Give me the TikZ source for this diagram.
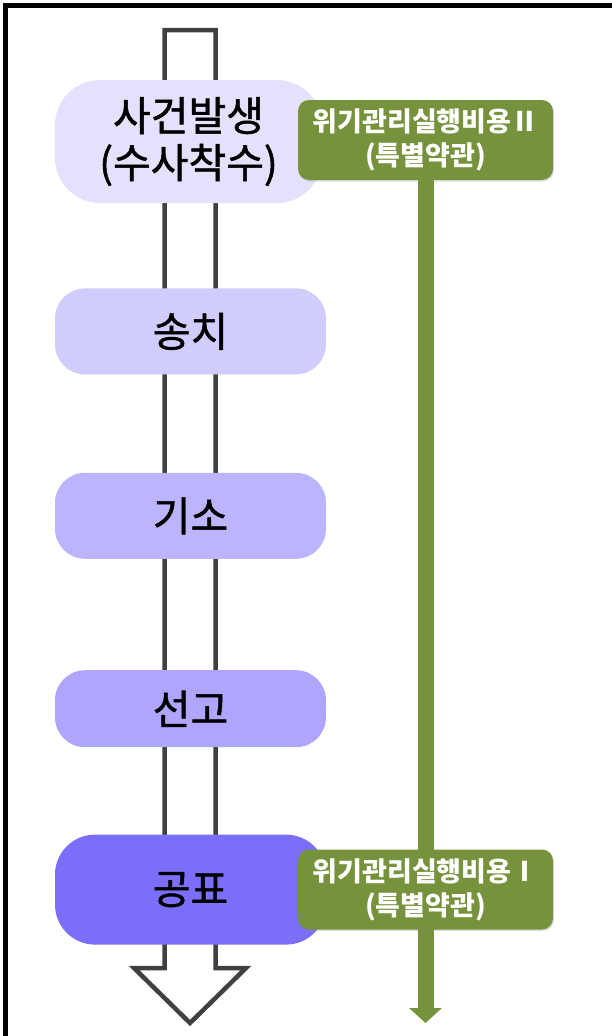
\documentclass[tikz,border=0pt]{standalone}
\usepackage{fontspec}
\setmainfont{Noto Sans CJK KR}
\newfontfamily\phasefont[FakeBold=1.2]{Noto Sans CJK KR}
\usepackage{tikz}
\usetikzlibrary{arrows.meta,positioning,shadows}

\definecolor{stepA}{HTML}{E3E1FC}
\definecolor{stepB}{HTML}{D0CCFC}
\definecolor{stepC}{HTML}{BBB5FD}
\definecolor{stepD}{HTML}{ADA6FC}
\definecolor{stepE}{HTML}{7B6FFA}
\definecolor{olive}{HTML}{76923C}
\definecolor{darkline}{HTML}{404040}

\begin{document}
\begin{tikzpicture}[x=1pt, y=-1pt,
      phase/.style={rounded corners=30pt, align=center, minimum width=271pt, minimum height=86pt,
        font=\phasefont\fontsize{41}{47}\selectfont, inner sep=0pt},
      costbox/.style={fill=olive, rounded corners=11pt, align=center, minimum width=255pt, minimum height=80pt,
        text=white, font=\bfseries\fontsize{27}{34}\selectfont, inner sep=0pt,
        drop shadow={opacity=0.25, shadow xshift=1pt, shadow yshift=-1.5pt}},
      >=Latex
    ]
    \useasboundingbox (0,0) rectangle (612,1036);
    % Frame
    \draw[line width=5pt] (5.5,1036) -- (5.5,5.5) -- (612,5.5);

    % Hollow flow arrow
    \draw[darkline, fill=white, line width=4.5pt, line join=miter]
      (164.5,30) -- (215.5,30) -- (215.5,968) -- (246,968) -- (190,1023)
      -- (134,968) -- (164.5,968) -- cycle;

    % Nodes
    \node[phase, fill=stepA, minimum width=267pt, minimum height=123pt, rounded corners=45pt] (incident) at (188.5,141.5) {사건발생\\(수사착수)};
    \node[phase, fill=stepB, below=85pt of incident.south, anchor=north, xshift=2pt] (transfer) {송치};
    \node[phase, fill=stepC, below=98pt of transfer] (indict) {기소};
    \node[phase, fill=stepD, below=111pt of indict, minimum height=77pt] (sentence) {선고};
    \node[phase, fill=stepE, below=87pt of sentence, minimum height=110pt, rounded corners=40pt] (publish) {공표};

    % Cost coverage
    \node[costbox] (costII) at (425.5,140) {위기관리실행비용Ⅱ\\(특별약관)};
    \coordinate (costend) at (425.5,1023);
    \draw[olive, line width=16pt, -{Triangle[width=32pt, length=15pt]}] (costII.south) -- (costend);
    \node[costbox] (costI) at (425.5,889.5) {위기관리실행비용Ⅰ\\(특별약관)};
  \end{tikzpicture}
\end{document}
